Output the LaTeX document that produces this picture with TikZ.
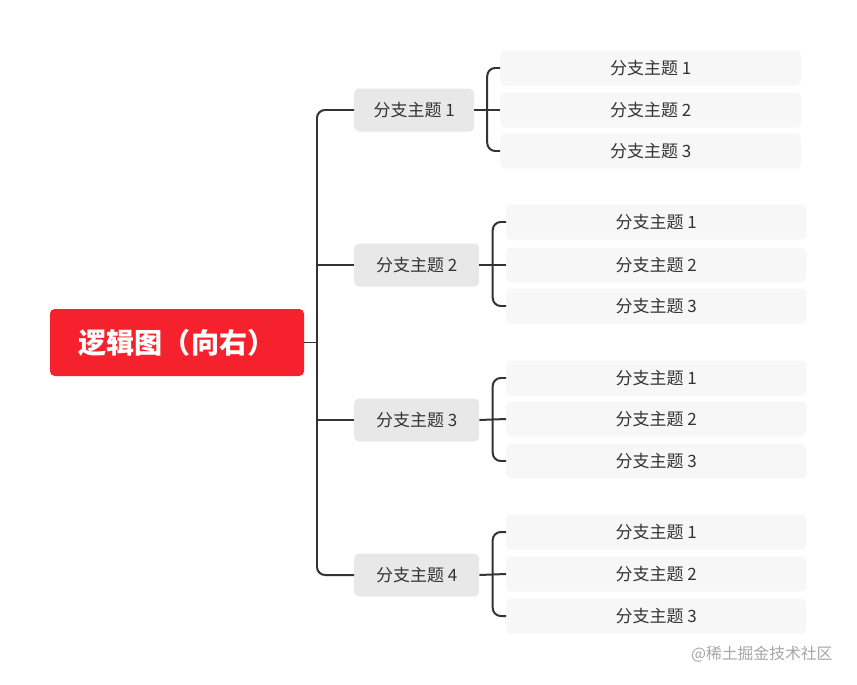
\documentclass[tikz,border=0pt]{standalone}
\usepackage{fontspec}
\setmainfont{Noto Sans CJK SC}
\usetikzlibrary{positioning,calc}

\definecolor{rootred}{RGB}{245,34,45}
\definecolor{branchgray}{RGB}{232,232,232}
\definecolor{leafgray}{RGB}{247,247,247}
\definecolor{inkgray}{RGB}{51,51,51}

\begin{document}
\begin{tikzpicture}[
  font=\fontsize{14.5}{16}\selectfont,
  rootbox/.style={fill=rootred,text=white,rounded corners=4pt,minimum width=7.62cm,
                  minimum height=2.01cm,font=\fontsize{24}{26}\selectfont\bfseries},
  branch/.style={fill=branchgray,text=inkgray,rounded corners=4pt,anchor=west,
                 minimum height=1.29cm,inner sep=0pt},
  leaf/.style={fill=leafgray,text=inkgray,rounded corners=4pt,anchor=west,
               minimum width=9.0cm,minimum height=1.05cm,inner sep=0pt},
  link/.style={draw=inkgray,line width=1.7pt,rounded corners=0.24cm},
]
\useasboundingbox (0,0) rectangle (25.71,-20.55);

% ---- Root -------------------------------------------------------------------
\node[rootbox] (root) at (5.31,-10.275) {逻辑图（向右）};

% ---- Branches ---------------------------------------------------------------
\node[branch,minimum width=3.6cm]  (b1) at (10.62,-3.3)  {分支主题 1};
\node[branch,minimum width=3.75cm] (b2) at (10.62,-7.95) {分支主题 2};
\node[branch,minimum width=3.75cm] (b3) at (10.62,-12.6) {分支主题 3};
\node[branch,minimum width=3.75cm] (b4) at (10.62,-17.25){分支主题 4};

% ---- Leaves -----------------------------------------------------------------
\node[leaf,minimum width=9.03cm] (l1a) at (15.0,-2.04) {分支主题 1};
\node[leaf,minimum width=9.03cm] (l1b) at (15.0,-3.3)  {分支主题 2};
\node[leaf,minimum width=9.03cm] (l1c) at (15.0,-4.53) {分支主题 3};

\node[leaf] (l2a) at (15.18,-6.66) {分支主题 1};
\node[leaf] (l2b) at (15.18,-7.95) {分支主题 2};
\node[leaf] (l2c) at (15.18,-9.18) {分支主题 3};

\node[leaf] (l3a) at (15.18,-11.34) {分支主题 1};
\node[leaf] (l3b) at (15.18,-12.57) {分支主题 2};
\node[leaf] (l3c) at (15.18,-13.83) {分支主题 3};

\node[leaf] (l4a) at (15.18,-15.96) {分支主题 1};
\node[leaf] (l4b) at (15.18,-17.22) {分支主题 2};
\node[leaf] (l4c) at (15.18,-18.48) {分支主题 3};

% ---- Trunk from root to branches --------------------------------------------
\coordinate (trunk) at (9.51,-10.275);
\draw[link] (b1.west) -| (trunk) |- (b4.west);
\draw[link] (root.east) -- (trunk);
\foreach \b in {b2,b3}{
  \draw[link] (\b.west -| trunk) -- (\b.west);
}

% ---- Brackets from branches to leaves ---------------------------------------
\foreach \b/\l in {1/l1,2/l2,3/l3,4/l4}{
  \coordinate (m\b) at ($(b\b.east)!0.5!(\l b.west)$);
  \draw[link] (\l a.west) -| (m\b) |- (\l c.west);
  \draw[link] (b\b.east) -- (\l b.west);
}

% ---- Watermark --------------------------------------------------------------
\node[text=gray!70,font=\fontsize{13.5}{15}\selectfont,anchor=east] (wm) at (25.1,-19.62) {@稀土掘金技术社区};

\end{tikzpicture}
\end{document}
